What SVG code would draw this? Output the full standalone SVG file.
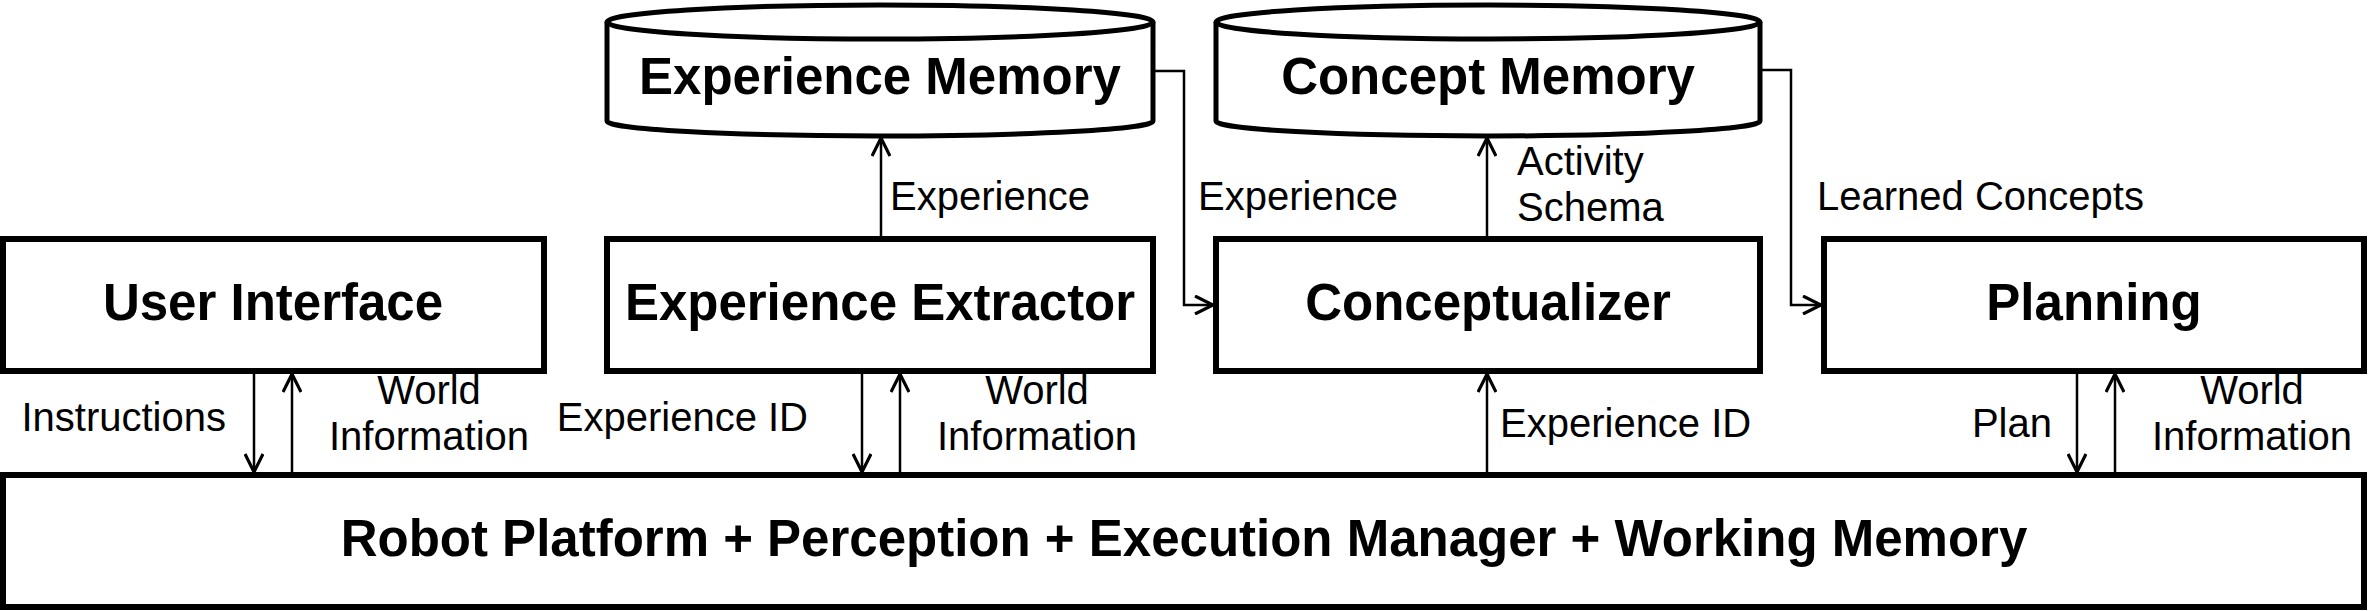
<svg xmlns="http://www.w3.org/2000/svg" width="2369" height="611" viewBox="0 0 2369 611">
<style>
.box{fill:#fff;stroke:#000;stroke-width:6}
.cyl{fill:#fff;stroke:#000;stroke-width:5}
.title{font-family:"Liberation Sans",Arial,sans-serif;font-weight:bold;font-size:51px;fill:#000;text-anchor:middle}
.lbl{font-family:"Liberation Sans",Arial,sans-serif;font-size:40px;fill:#000}
.conn{fill:none;stroke:#000;stroke-width:2.5}
</style>
<defs>
<marker id="arr" viewBox="0 0 20 20" refX="19" refY="10" markerWidth="20" markerHeight="20" markerUnits="userSpaceOnUse" orient="auto">
<path d="M1,1 L19,10 L1,19" fill="none" stroke="#000" stroke-width="3.2"/>
</marker>
</defs>
<rect width="2369" height="611" fill="#fff"/>
<g id="experience-memory">
<path class="cyl" d="M607,22 L607,121 A273,15 0 0 0 1153,121 L1153,22"/>
<ellipse class="cyl" cx="880" cy="22" rx="273" ry="17"/>
<text class="title" x="880" y="94">Experience Memory</text>
</g>
<g id="concept-memory">
<path class="cyl" d="M1216,22 L1216,121 A272,15 0 0 0 1760,121 L1760,22"/>
<ellipse class="cyl" cx="1488" cy="22" rx="272" ry="17"/>
<text class="title" x="1488" y="94">Concept Memory</text>
</g>
<g id="user-interface">
<rect class="box" x="3" y="239" width="541" height="132"/>
<text class="title" x="273" y="320">User Interface</text>
</g>
<g id="experience-extractor">
<rect class="box" x="607" y="239" width="546" height="132"/>
<text class="title" x="880" y="320">Experience Extractor</text>
</g>
<g id="conceptualizer">
<rect class="box" x="1216" y="239" width="544" height="132"/>
<text class="title" x="1488" y="320">Conceptualizer</text>
</g>
<g id="planning">
<rect class="box" x="1824" y="239" width="540" height="132"/>
<text class="title" x="2094" y="320">Planning</text>
</g>
<g id="robot-platform">
<rect class="box" x="3" y="475" width="2361" height="132"/>
<text class="title" x="1184" y="556">Robot Platform + Perception + Execution Manager + Working Memory</text>
</g>
<g id="connectors">
<line class="conn" x1="254" y1="374" x2="254" y2="472" marker-end="url(#arr)"/>
<line class="conn" x1="292" y1="472" x2="292" y2="374" marker-end="url(#arr)"/>
<line class="conn" x1="862" y1="374" x2="862" y2="472" marker-end="url(#arr)"/>
<line class="conn" x1="900" y1="472" x2="900" y2="374" marker-end="url(#arr)"/>
<line class="conn" x1="881" y1="236" x2="881" y2="138" marker-end="url(#arr)"/>
<path class="conn" d="M1155,71 H1184 V305 H1213" marker-end="url(#arr)"/>
<line class="conn" x1="1487" y1="236" x2="1487" y2="138" marker-end="url(#arr)"/>
<line class="conn" x1="1487" y1="472" x2="1487" y2="374" marker-end="url(#arr)"/>
<path class="conn" d="M1762,70 H1791 V305 H1821" marker-end="url(#arr)"/>
<line class="conn" x1="2077" y1="374" x2="2077" y2="472" marker-end="url(#arr)"/>
<line class="conn" x1="2115" y1="472" x2="2115" y2="374" marker-end="url(#arr)"/>
</g>
<g id="labels">
<text class="lbl" x="890" y="210">Experience</text>
<text class="lbl" x="1198" y="210">Experience</text>
<text class="lbl" x="1517" y="175">Activity</text>
<text class="lbl" x="1517" y="221">Schema</text>
<text class="lbl" x="1817" y="210">Learned Concepts</text>
<text class="lbl" x="226" y="431" text-anchor="end">Instructions</text>
<text class="lbl" x="429" y="404" text-anchor="middle">World</text>
<text class="lbl" x="429" y="450" text-anchor="middle">Information</text>
<text class="lbl" x="808" y="431" text-anchor="end">Experience ID</text>
<text class="lbl" x="1037" y="404" text-anchor="middle">World</text>
<text class="lbl" x="1037" y="450" text-anchor="middle">Information</text>
<text class="lbl" x="1500" y="437">Experience ID</text>
<text class="lbl" x="2052" y="437" text-anchor="end">Plan</text>
<text class="lbl" x="2252" y="404" text-anchor="middle">World</text>
<text class="lbl" x="2252" y="450" text-anchor="middle">Information</text>
</g>
</svg>
